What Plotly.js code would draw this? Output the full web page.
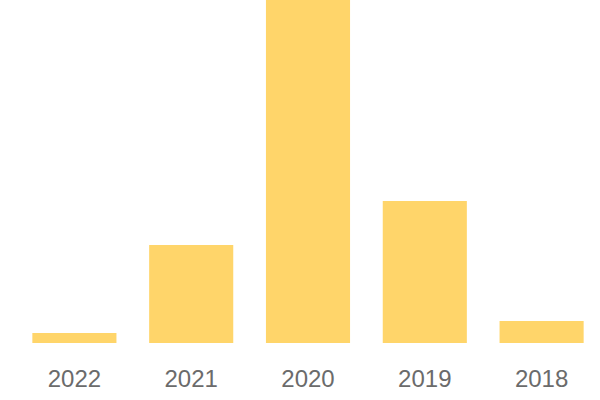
<!DOCTYPE html>
<html><head><meta charset="utf-8">
<script src="https://cdn.plot.ly/plotly-3.0.1.min.js"></script>
<style>html,body{margin:0;padding:0;background:#fff}#chart{width:600px;height:400px}</style>
</head><body><div id="chart"></div>
<script>
const years = ['2022','2021','2020','2019','2018'];
const values = [2.9, 28.6, 100, 41.4, 6.4];
const barColor = '#FFD56A';

Plotly.newPlot('chart', [{
  type: 'bar',
  x: years,
  y: values,
  marker: {color: barColor},
  hoverinfo: 'x+y'
}], {
  width: 600, height: 400,
  margin: {l: 16, r: 0, t: 0, b: 57, pad: 0},
  paper_bgcolor: '#fff', plot_bgcolor: '#fff',
  bargap: 0.28,
  showlegend: false,
  xaxis: {type: 'category', showgrid: false, zeroline: false, showline: false, ticks: '',
    tickfont: {family: 'Liberation Sans, Arial, sans-serif', size: 24, color: '#6b6b6b'}, ticklabelstandoff: 19},
  yaxis: {visible: false, range: [0, 100], showgrid: false, zeroline: false}
}, {displayModeBar: false, staticPlot: true});
</script></body></html>
